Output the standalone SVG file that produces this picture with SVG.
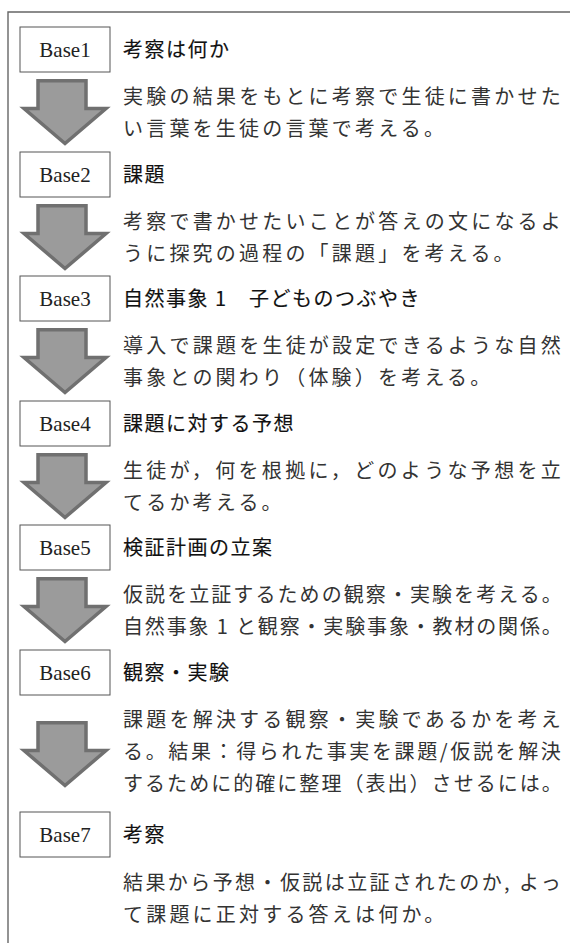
<svg xmlns="http://www.w3.org/2000/svg" width="570" height="943" viewBox="0 0 570 943">
<style>
.box{fill:#fff;stroke:#555;stroke-width:1}
.lbl{font-family:"Liberation Serif",serif;font-size:21px;fill:#222;text-anchor:middle}
.ttl{font-family:"Noto Sans CJK JP",sans-serif;font-size:20px;font-weight:normal;fill:#111;stroke:#111;stroke-width:0.15;letter-spacing:1.5px}
.bd{font-family:"Noto Sans CJK JP",sans-serif;font-size:20px;fill:#333;letter-spacing:3.2px}
.arr{fill:#9b9b9b;stroke:#707070;stroke-width:3.5;stroke-linejoin:miter}
.frame{fill:none;stroke:#666;stroke-width:1.4}
</style>
<defs>
<polygon id="arrow" class="arr" points="38,1.8 86,1.8 86,29.5 106,29.5 65,64.5 24,29.5 38,29.5"/>
</defs>
<rect width="570" height="943" fill="#fff"/>
<path class="frame" d="M570,12 H8 V943"/>

<g id="connectors">
<use href="#arrow" x="0" y="79"/>
<use href="#arrow" x="0" y="204"/>
<use href="#arrow" x="0" y="328"/>
<use href="#arrow" x="0" y="453"/>
<use href="#arrow" x="0" y="577"/>
<use href="#arrow" x="0" y="721"/>
</g>

<g id="base1">
<rect class="box" x="20" y="27" width="90" height="45"/>
<text class="lbl" x="65" y="57">Base1</text>
<text class="ttl" x="123" y="57">考察は何か</text>
<text class="bd" x="123" y="104" textLength="441" lengthAdjust="spacing">実験の結果をもとに考察で生徒に書かせた</text>
<text class="bd" x="123" y="136">い言葉を生徒の言葉で考える。</text>
</g>

<g id="base2">
<rect class="box" x="20" y="152" width="90" height="45"/>
<text class="lbl" x="65" y="182">Base2</text>
<text class="ttl" x="123" y="182">課題</text>
<text class="bd" x="123" y="229" textLength="441" lengthAdjust="spacing">考察で書かせたいことが答えの文になるよ</text>
<text class="bd" x="123" y="261">うに探究の過程の「課題」を考える。</text>
</g>

<g id="base3">
<rect class="box" x="20" y="276" width="90" height="45"/>
<text class="lbl" x="65" y="306">Base3</text>
<text class="ttl" x="123" y="306">自然事象 1　子どものつぶやき</text>
<text class="bd" x="123" y="353" textLength="441" lengthAdjust="spacing">導入で課題を生徒が設定できるような自然</text>
<text class="bd" x="123" y="385">事象との関わり（体験）を考える。</text>
</g>

<g id="base4">
<rect class="box" x="20" y="401" width="90" height="45"/>
<text class="lbl" x="65" y="431">Base4</text>
<text class="ttl" x="123" y="431">課題に対する予想</text>
<text class="bd" x="123" y="478" textLength="441" lengthAdjust="spacing">生徒が，何を根拠に，どのような予想を立</text>
<text class="bd" x="123" y="510">てるか考える。</text>
</g>

<g id="base5">
<rect class="box" x="20" y="525" width="90" height="45"/>
<text class="lbl" x="65" y="555">Base5</text>
<text class="ttl" x="123" y="555">検証計画の立案</text>
<text class="bd" x="123" y="602" textLength="442" lengthAdjust="spacing">仮説を立証するための観察・実験を考える。</text>
<text class="bd" x="123" y="634" textLength="442" lengthAdjust="spacing">自然事象 1 と観察・実験事象・教材の関係。</text>
</g>

<g id="base6">
<rect class="box" x="20" y="650" width="90" height="45"/>
<text class="lbl" x="65" y="680">Base6</text>
<text class="ttl" x="123" y="680">観察・実験</text>
<text class="bd" x="123" y="727" textLength="441" lengthAdjust="spacing">課題を解決する観察・実験であるかを考え</text>
<text class="bd" x="123" y="759" textLength="441" lengthAdjust="spacing">る。結果：得られた事実を課題/仮説を解決</text>
<text class="bd" x="123" y="791" textLength="442" lengthAdjust="spacing">するために的確に整理（表出）させるには。</text>
</g>

<g id="base7">
<rect class="box" x="20" y="812" width="90" height="45"/>
<text class="lbl" x="65" y="842">Base7</text>
<text class="ttl" x="123" y="842">考察</text>
<text class="bd" x="123" y="890" textLength="441" lengthAdjust="spacing">結果から予想・仮説は立証されたのか, よっ</text>
<text class="bd" x="123" y="922">て課題に正対する答えは何か。</text>
</g>
</svg>
